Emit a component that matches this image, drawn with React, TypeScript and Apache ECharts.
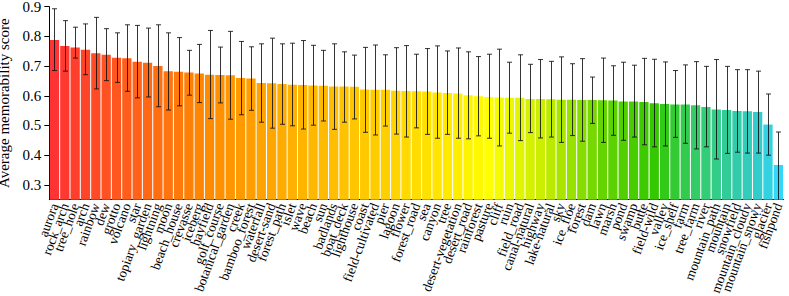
import React, { useEffect, useRef } from "react";
import * as echarts from "echarts";

const categories = [
  "aurora", "rock_arch", "tree_hole", "arch", "rainbow", "dew", "grotto", "volcano", "star",
  "topiary_garden", "lightning", "moon", "beach_house", "crevasse", "iceberg", "hayfield",
  "golf_course", "botanical_garden", "creek", "bamboo_forest", "waterfall", "desert-sand",
  "forest_path", "islet", "wave", "beach", "sun", "badlands", "boat_deck", "lighthouse", "coast",
  "field-cultivated", "pier", "lagoon", "flower", "forest_road", "sea", "canyon", "tree",
  "desert-vegetation", "desert_road", "rainforest", "pasture", "cliff", "ruin", "field_road",
  "canal-natural", "highway", "lake-natural", "sky", "ice_floe", "forest", "dam", "lawn", "marsh",
  "pond", "swamp", "butte", "field-wild", "valley", "ice_shelf", "farm", "tree_farm", "river",
  "mountain_path", "mountain", "snowfield", "mountain_cloudy", "mountain_snowy", "glacier", "fishpond",
];

const means = [
  0.788, 0.768, 0.763, 0.755, 0.743, 0.738, 0.728, 0.726, 0.715, 0.711, 0.700, 0.683, 0.681, 0.678,
  0.675, 0.671, 0.670, 0.669, 0.660, 0.658, 0.643, 0.642, 0.640, 0.637, 0.636, 0.635, 0.634, 0.631,
  0.631, 0.630, 0.621, 0.620, 0.620, 0.617, 0.616, 0.615, 0.614, 0.611, 0.609, 0.608, 0.602, 0.598,
  0.596, 0.594, 0.593, 0.593, 0.589, 0.589, 0.588, 0.587, 0.587, 0.586, 0.586, 0.585, 0.584, 0.581,
  0.581, 0.579, 0.575, 0.572, 0.571, 0.571, 0.568, 0.562, 0.554, 0.552, 0.549, 0.548, 0.545, 0.503,
  0.367,
];

const upper = [
  0.893, 0.853, 0.831, 0.842, 0.864, 0.826, 0.812, 0.839, 0.837, 0.828, 0.839, 0.812, 0.796, 0.753,
  0.773, 0.820, 0.764, 0.817, 0.783, 0.765, 0.775, 0.794, 0.775, 0.777, 0.786, 0.770, 0.753, 0.775,
  0.748, 0.737, 0.763, 0.771, 0.738, 0.762, 0.769, 0.740, 0.759, 0.768, 0.751, 0.761, 0.748, 0.732,
  0.740, 0.757, 0.713, 0.738, 0.706, 0.722, 0.716, 0.731, 0.708, 0.725, 0.663, 0.727, 0.701, 0.713,
  0.703, 0.726, 0.723, 0.714, 0.685, 0.704, 0.715, 0.699, 0.722, 0.699, 0.688, 0.688, 0.683, 0.606,
  0.478,
];

const lower = [
  0.685, 0.683, 0.727, 0.671, 0.623, 0.651, 0.645, 0.615, 0.593, 0.596, 0.563, 0.552, 0.566, 0.602,
  0.577, 0.523, 0.576, 0.521, 0.536, 0.551, 0.511, 0.491, 0.504, 0.499, 0.488, 0.501, 0.515, 0.487,
  0.511, 0.522, 0.477, 0.468, 0.498, 0.471, 0.461, 0.492, 0.470, 0.457, 0.470, 0.457, 0.455, 0.465,
  0.457, 0.431, 0.474, 0.449, 0.476, 0.458, 0.461, 0.443, 0.466, 0.447, 0.507, 0.443, 0.467, 0.450,
  0.461, 0.435, 0.428, 0.431, 0.460, 0.440, 0.421, 0.428, 0.387, 0.406, 0.410, 0.407, 0.407, 0.400,
  0.24,
];

const yTicks = [0.3, 0.4, 0.5, 0.6, 0.7, 0.8, 0.9];

// colour ramp stops: [bar index (0-based), colour]
const colorStops: [number, string][] = [
  [0, "#ff3333"],
  [15, "#ff8c00"],
  [23, "#ffb000"],
  [32, "#ffd000"],
  [39, "#ffee00"],
  [42, "#ffff00"],
  [47, "#ccee00"],
  [53, "#66d400"],
  [58, "#33c800"],
  [62, "#33cc66"],
  [68, "#33cccc"],
  [70, "#33d8f8"],
];

function hexToRgb(h: string) {
  return [1, 3, 5].map((k) => parseInt(h.slice(k, k + 2), 16));
}
function colorAt(i: number) {
  for (let s = 0; s < colorStops.length - 1; s++) {
    const [a, ca] = colorStops[s];
    const [b, cb] = colorStops[s + 1];
    if (i >= a && i <= b) {
      const t = b === a ? 0 : (i - a) / (b - a);
      const A = hexToRgb(ca), B = hexToRgb(cb);
      const c = A.map((v, k) => Math.round(v + (B[k] - v) * t));
      return `rgb(${c[0]},${c[1]},${c[2]})`;
    }
  }
  return colorStops[colorStops.length - 1][1];
}

const FONT = '"Liberation Serif", "DejaVu Serif", serif';

export default function App() {
  const ref = useRef<HTMLDivElement>(null);
  useEffect(() => {
    if (!ref.current) return;
    const chart = echarts.init(ref.current, null, { renderer: "svg" });
    chart.setOption({
      animation: false,
      backgroundColor: "#ffffff",
      grid: {
        left: 49.3,
        right: 5.5,
        top: 6.7,
        bottom: 96.3,
        containLabel: false,
        outerBoundsMode: "none",
      },
      xAxis: {
        type: "category",
        data: categories,
        axisLine: { show: true, lineStyle: { color: "#000", width: 1 } },
        axisTick: { show: false },
        axisLabel: {
          interval: 0,
          rotate: 70,
          margin: 4,
          color: "#000",
          fontFamily: FONT,
          fontSize: 13.5,
        },
      },
      yAxis: {
        type: "value",
        min: 0.25,
        max: 0.9,
        name: "Average memorability score",
        nameLocation: "middle",
        nameGap: 32,
        nameTextStyle: { color: "#000", fontFamily: FONT, fontSize: 15 },
        splitLine: { show: false },
        axisLine: { show: true, lineStyle: { color: "#000", width: 1 } },
        axisTick: {
          show: true,
          inside: false,
          length: 5,
          customValues: yTicks,
          lineStyle: { color: "#000" },
        },
        axisLabel: {
          customValues: yTicks,
          margin: 8,
          color: "#000",
          fontFamily: FONT,
          fontSize: 15,
          formatter: (v: number) => v.toFixed(1),
        },
      },
      series: [
        {
          type: "bar",
          barCategoryGap: "10%",
          data: means.map((v, i) => ({ value: v, itemStyle: { color: colorAt(i) } })),
        },
        {
          type: "custom",
          clip: true,
          z: 5,
          encode: { x: 0, y: [1, 2] },
          data: categories.map((_, i) => [i, lower[i], upper[i]]),
          renderItem: (params: any, api: any) => {
            const i = api.value(0);
            const top = api.coord([i, api.value(2)]);
            const bot = api.coord([i, api.value(1)]);
            const x = Math.round(top[0]) + 0.5;
            const style = { stroke: "#111", lineWidth: 1, opacity: 0.85 };
            return {
              type: "group",
              children: [
                { type: "line", shape: { x1: x, y1: top[1], x2: x, y2: bot[1] }, style },
                { type: "line", shape: { x1: x - 2.5, y1: top[1], x2: x + 2.5, y2: top[1] }, style },
                { type: "line", shape: { x1: x - 2.5, y1: bot[1], x2: x + 2.5, y2: bot[1] }, style },
              ],
            };
          },
        },
      ],
    });
    return () => chart.dispose();
  }, []);
  return (
    <div
      ref={ref}
      style={{ position: "fixed", left: 0, top: 0, width: 789, height: 296, background: "#fff" }}
    />
  );
}
